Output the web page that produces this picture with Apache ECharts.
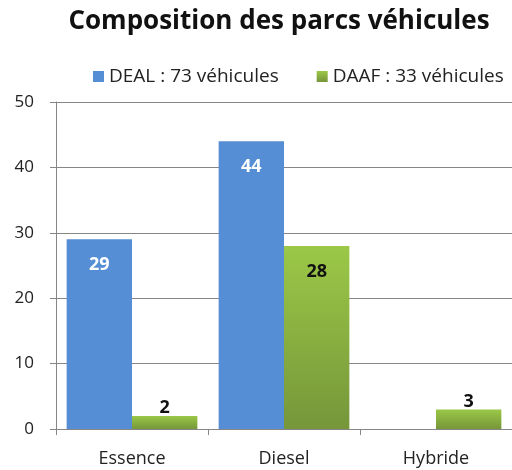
<!DOCTYPE html>
<html>
<head>
<meta charset="utf-8">
<script src="https://cdn.jsdelivr.net/npm/echarts@6/dist/echarts.min.js"></script>
<style>
html, body { margin: 0; padding: 0; background: #fff; }
#main { width: 512px; height: 470px; }
</style>
</head>
<body>
<div id="main"></div>
<script>
// données du graphique
var categories = ['Essence', 'Diesel', 'Hybride'];
var dealValues = [29, 44, null];
var daafValues = [2, 28, 3];
var seriesNames = ['DEAL : 73 véhicules', 'DAAF : 33 véhicules'];
var yTicks = [0, 10, 20, 30, 40, 50];

var font = '"Open Sans", Lato, sans-serif';

// les petites barres ont l'étiquette au-dessus
function daafData(){
    var out = [];
    for (var i = 0; i < daafValues.length; i++) {
        var v = daafValues[i];
        var item = { value: v };
        if (v < 6) {
            item.label = { position: 'top', distance: -1 };
        }
        out.push(item);
    }
    return out;
}

var chart = echarts.init(document.getElementById('main'));
var option = {
    backgroundColor: '#fff',
    animation: false,
    title: {
        text: 'Composition des parcs véhicules',
        left: 274,
        textAlign: 'center',
        top: 4,
        textStyle: { fontFamily: font, fontSize: 26, fontWeight: 'bold', color: '#111' }
    },
    legend: {
        data: seriesNames,
        left: 88,
        top: 62,
        itemWidth: 11,
        itemHeight: 11,
        itemGap: 38,
        icon: 'rect',
        textStyle: { fontFamily: font, fontSize: 19, color: '#222' }
    },
    grid: { left: 56, right: 0, top: 102, bottom: 41 },
    xAxis: {
        type: 'category',
        data: categories,
        axisLine: { lineStyle: { color: '#868686', width: 1 } },
        axisTick: { show: true, length: 6, lineStyle: { color: '#868686' } },
        axisLabel: { fontFamily: font, fontSize: 18, color: '#222', margin: 21 }
    },
    yAxis: {
        type: 'value',
        min: yTicks[0],
        max: yTicks[yTicks.length - 1],
        interval: 10,
        axisLine: { show: true, lineStyle: { color: '#868686' } },
        axisTick: { show: true, length: 6, lineStyle: { color: '#868686' } },
        splitLine: { lineStyle: { color: '#868686', width: 1 } },
        axisLabel: { fontFamily: font, fontSize: 17, color: '#222', margin: 22 }
    },
    series: [
        {
            name: seriesNames[0],
            type: 'bar',
            data: dealValues,
            barGap: '0%',
            barCategoryGap: '14%',
            itemStyle: { color: '#558ED5' },
            label: {
                show: true,
                position: 'insideTop',
                distance: 17,
                color: '#fff',
                fontFamily: font,
                fontSize: 18,
                fontWeight: 'bold'
            }
        },
        {
            name: seriesNames[1],
            type: 'bar',
            data: daafData(),
            itemStyle: {
                color: new echarts.graphic.LinearGradient(0, 0, 0, 1, [
                    { offset: 0, color: '#9BC847' },
                    { offset: 1, color: '#76963A' }
                ])
            },
            label: {
                show: true,
                position: 'insideTop',
                distance: 17,
                color: '#111',
                fontFamily: font,
                fontSize: 18,
                fontWeight: 'bold'
            }
        }
    ]
};
chart.setOption(option);
</script>
</body>
</html>
